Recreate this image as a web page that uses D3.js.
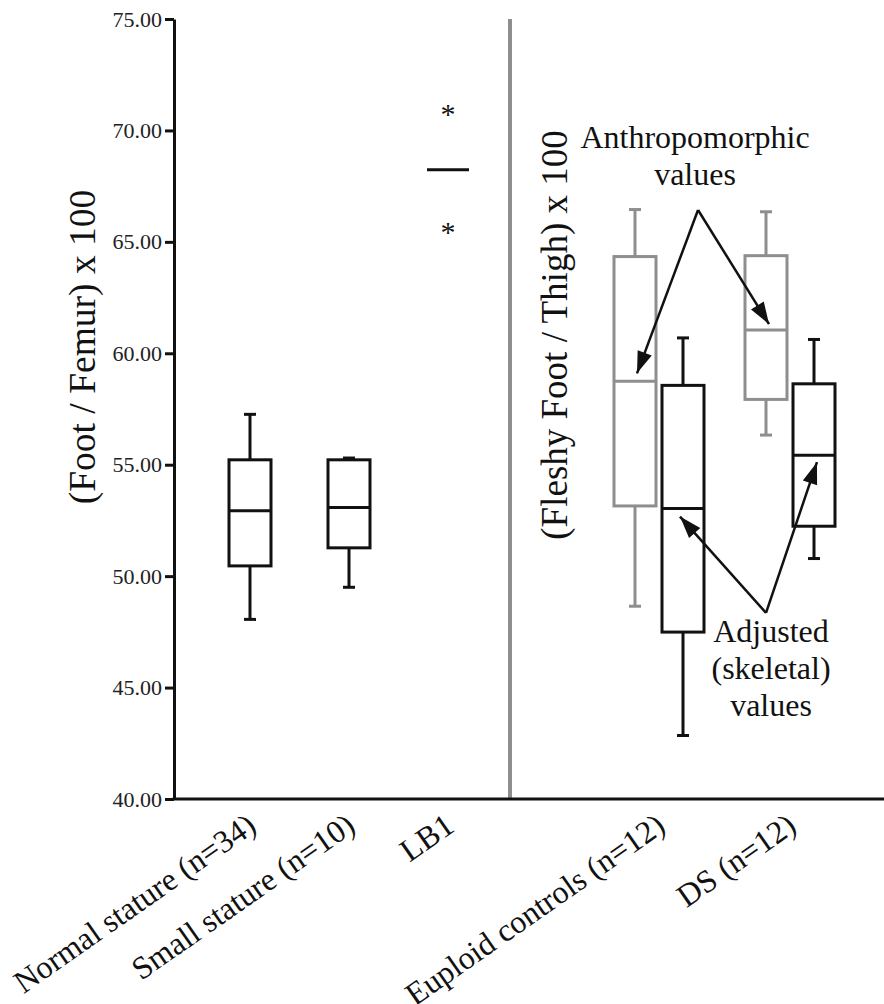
<!DOCTYPE html>
<html><head><meta charset="utf-8">
<script src="https://cdn.jsdelivr.net/npm/d3@7"></script>
<style>
body{margin:0;background:#fff}
svg{display:block}
</style>
</head><body>
<svg id="c" width="884" height="1004"></svg>
<script>
// ---------- DATA ----------
const leftCategories = ["Normal stature (n=34)", "Small stature (n=10)", "LB1"];
const rightCategories = ["Euploid controls (n=12)", "DS (n=12)"];
const seriesNames = ["Anthropomorphic", "Adjusted"];
const yTicks = [40, 45, 50, 55, 60, 65, 70, 75];

// left panel (Foot / Femur) x 100 : Normal, Small
const leftMin    = [48.06, 49.50];
const leftQ1     = [50.46, 51.27];
const leftMedian = [52.93, 53.08];
const leftQ3     = [55.22, 55.22];
const leftMax    = [57.26, 55.30];
// LB1 single value with two extreme estimates
const lb1Median = 68.23;
const lb1Extremes = [70.96, 65.67];

// right panel (Fleshy Foot / Thigh) x 100 : Euploid, DS
const anthroMin    = [48.65, 56.33];
const anthroQ1     = [53.15, 57.93];
const anthroMedian = [58.74, 61.04];
const anthroQ3     = [64.34, 64.38];
const anthroMax    = [66.45, 66.35];

const adjMin    = [42.85, 50.79];
const adjQ1     = [47.49, 52.24];
const adjMedian = [53.03, 55.43];
const adjQ3     = [58.56, 58.63];
const adjMax    = [60.69, 60.62];

// ---------- LAYOUT ----------
const W = 884, H = 1004;
const axisX = 174;
const GRAY = "#8e8e8e";
const FONT = '"Liberation Serif"';
const svg = d3.select("#c");

const y = d3.scaleLinear().domain([40, 75]).range([799, 19]);
const xLeft = d3.scalePoint().domain(leftCategories).range([250, 448]);
const xRight = d3.scalePoint().domain(rightCategories).range([659, 790]);
const xSub = d3.scaleBand().domain(seriesNames).range([-45, 45]).paddingInner(0.125);
const boxW = xSub.bandwidth();
const capW = 12;

function txt(sel) { return sel.style("font-family", FONT).attr("fill", "#111"); }

function drawBox(g, cx, s, color) {
  const gg = g.append("g").attr("stroke", color).attr("stroke-width", 3).attr("fill", "none");
  gg.append("line").attr("x1", cx).attr("x2", cx).attr("y1", y(s.q3)).attr("y2", y(s.max));
  gg.append("line").attr("x1", cx).attr("x2", cx).attr("y1", y(s.q1)).attr("y2", y(s.min));
  gg.append("line").attr("x1", cx - capW / 2).attr("x2", cx + capW / 2).attr("y1", y(s.max)).attr("y2", y(s.max));
  gg.append("line").attr("x1", cx - capW / 2).attr("x2", cx + capW / 2).attr("y1", y(s.min)).attr("y2", y(s.min));
  gg.append("rect").attr("x", cx - boxW / 2).attr("width", boxW)
    .attr("y", y(s.q3)).attr("height", y(s.q1) - y(s.q3)).attr("fill", "#fff");
  gg.append("line").attr("x1", cx - boxW / 2).attr("x2", cx + boxW / 2)
    .attr("y1", y(s.med)).attr("y2", y(s.med));
}

// divider
svg.append("line").attr("x1", 510).attr("x2", 510).attr("y1", y(75)).attr("y2", y(40))
  .attr("stroke", GRAY).attr("stroke-width", 4);

// left boxes
const marks = svg.append("g");
leftCategories.slice(0, 2).forEach((c, i) => {
  drawBox(marks, xLeft(c), {min: leftMin[i], q1: leftQ1[i], med: leftMedian[i], q3: leftQ3[i], max: leftMax[i]}, "#111");
});
// LB1
marks.append("line").attr("x1", xLeft("LB1") - boxW / 2).attr("x2", xLeft("LB1") + boxW / 2)
  .attr("y1", y(lb1Median)).attr("y2", y(lb1Median)).attr("stroke", "#111").attr("stroke-width", 3);
txt(marks.selectAll("text.ast").data(lb1Extremes).join("text").attr("class", "ast")
  .attr("x", xLeft("LB1")).attr("y", d => y(d) + 15)
  .attr("text-anchor", "middle").attr("font-size", 30).text("*"));

// right boxes
rightCategories.forEach((c, i) => {
  drawBox(marks, xRight(c) + xSub("Anthropomorphic") + boxW / 2,
    {min: anthroMin[i], q1: anthroQ1[i], med: anthroMedian[i], q3: anthroQ3[i], max: anthroMax[i]}, GRAY);
  drawBox(marks, xRight(c) + xSub("Adjusted") + boxW / 2,
    {min: adjMin[i], q1: adjQ1[i], med: adjMedian[i], q3: adjQ3[i], max: adjMax[i]}, "#111");
});

// y axis
const yAxis = svg.append("g").attr("transform", `translate(${axisX},0)`)
  .call(d3.axisLeft(y).tickValues(yTicks).tickFormat(d3.format(".2f")).tickSize(9).tickSizeOuter(0).tickPadding(3));
yAxis.attr("font-family", null);
yAxis.select(".domain").attr("stroke", "#111").attr("stroke-width", 3);
yAxis.selectAll(".tick line").attr("stroke", "#111").attr("stroke-width", 3);
yAxis.selectAll(".tick text").attr("font-size", 22).style("font-family", FONT).attr("fill", "#222");

// x axis line
svg.append("line").attr("x1", axisX - 1.5).attr("x2", W).attr("y1", y(40)).attr("y2", y(40))
  .attr("stroke", "#111").attr("stroke-width", 3);

// x labels
const labelData = leftCategories.map(c => ({c, x: xLeft(c)})).concat(rightCategories.map(c => ({c, x: xRight(c)})));
txt(svg.selectAll("text.xl").data(labelData).join("text").attr("class", "xl")
  .attr("transform", d => `translate(${d.x + 8},${y(40) + 31}) rotate(-35)`)
  .attr("text-anchor", "end").attr("font-size", 32).text(d => d.c));

// axis titles
txt(svg.append("text").attr("transform", "translate(95,347) rotate(-90)")
  .attr("text-anchor", "middle").attr("font-size", 37.5).text("(Foot / Femur) x 100"));
txt(svg.append("text").attr("transform", "translate(567,335) rotate(-90)")
  .attr("text-anchor", "middle").attr("font-size", 37).text("(Fleshy Foot / Thigh) x 100"));

// ---------- ANNOTATIONS ----------
const defs = svg.append("defs");
defs.append("marker").attr("id", "ah").attr("markerUnits", "userSpaceOnUse")
  .attr("viewBox", "-23 -8 24 16").attr("refX", 0).attr("refY", 0)
  .attr("markerWidth", 24).attr("markerHeight", 16).attr("orient", "auto")
  .append("path").attr("d", "M0,0 L-22,-7.5 L-22,7.5 Z").attr("fill", "#111");

const annotations = [
  {lines: ["Anthropomorphic", "values"], series: "Anthropomorphic", medians: anthroMedian,
   apexFrac: 0.298, apexValue: 66.43, textDx: -3, textDy: -25, above: true,
   tips: [{dx: 2, dy: -8}, {dx: 3, dy: -6}]},
  {lines: ["Adjusted", "(skeletal)", "values"], series: "Adjusted", medians: adjMedian,
   apexFrac: 0.817, apexValue: 48.35, textDx: 5, textDy: 29, above: false,
   tips: [{dx: -3, dy: 8}, {dx: 3, dy: 7}]}
];
const lineH = 37;
annotations.forEach(a => {
  const x0 = xRight(rightCategories[0]), x1 = xRight(rightCategories[1]);
  const ax = x0 + a.apexFrac * (x1 - x0), ay = y(a.apexValue);
  rightCategories.forEach((c, i) => {
    const tx = xRight(c) + xSub(a.series) + boxW / 2 + a.tips[i].dx;
    const ty = y(a.medians[i]) + a.tips[i].dy;
    svg.append("line").attr("x1", ax).attr("y1", ay).attr("x2", tx).attr("y2", ty)
      .attr("stroke", "#111").attr("stroke-width", 2.5).attr("marker-end", "url(#ah)");
  });
  const n = a.lines.length;
  a.lines.forEach((t, k) => {
    const by = a.above ? ay + a.textDy - (n - 1 - k) * lineH : ay + a.textDy + k * lineH;
    txt(svg.append("text").attr("x", ax + a.textDx).attr("y", by)
      .attr("text-anchor", "middle").attr("font-size", 32).text(t));
  });
});
</script>
</body></html>
